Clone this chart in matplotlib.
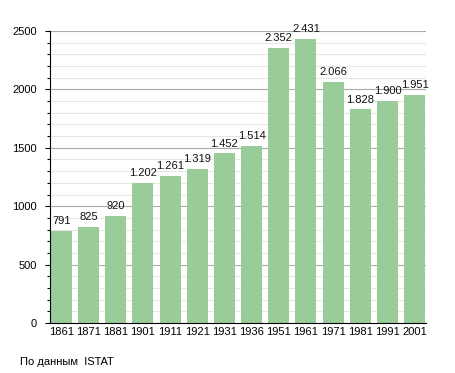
import matplotlib
matplotlib.use("Agg")
import matplotlib.pyplot as plt
from matplotlib.ticker import MultipleLocator

years = ["1861", "1871", "1881", "1901", "1911", "1921", "1931", "1936",
         "1951", "1961", "1971", "1981", "1991", "2001"]
population = [791, 825, 920, 1202, 1261, 1319, 1452, 1514,
              2352, 2431, 2066, 1828, 1900, 1951]

plt.rcParams['font.family'] = ['Liberation Sans', 'DejaVu Sans']

fig = plt.figure(figsize=(4.55, 3.73), dpi=100)
ax = fig.add_axes([50/455, 50/373, 376/455, 292/373])

x = list(range(len(years)))
bars = ax.bar(x, population, width=0.77, color='#99cc99', zorder=3)

def fmt(v):
    return f"{v:,}".replace(",", ".")

for xi, v in zip(x, population):
    ax.annotate(fmt(v), (xi, v), xytext=(0, 3.5), textcoords='offset points',
                ha='center', va='bottom', fontsize=8, color='#111111')

ax.set_xlim(-0.42, len(years) - 0.58)
ax.set_ylim(0, 2500)
ax.set_xticks(x)
ax.set_xticklabels(years, fontsize=8)
ax.yaxis.set_major_locator(MultipleLocator(500))
ax.yaxis.set_minor_locator(MultipleLocator(100))
ax.tick_params(axis='y', labelsize=8, length=3.5, width=0.8, pad=6)
ax.tick_params(axis='y', which='minor', length=2, width=0.8)
ax.tick_params(axis='x', length=0, pad=3)
ax.grid(axis='y', which='major', color='#aaaaaa', linewidth=0.8, zorder=0)
ax.grid(axis='y', which='minor', color='#e6e6e6', linewidth=0.8, zorder=0)
for s in ['top', 'right']:
    ax.spines[s].set_visible(False)
ax.spines['left'].set_color('black')
ax.spines['bottom'].set_color('black')
ax.spines['left'].set_zorder(4)
ax.spines['bottom'].set_zorder(4)

fig.text(20/455, 1 - 362/373, "По данным  ISTAT", fontsize=8, ha='left', va='center')

fig.savefig("out.png", dpi=100)
